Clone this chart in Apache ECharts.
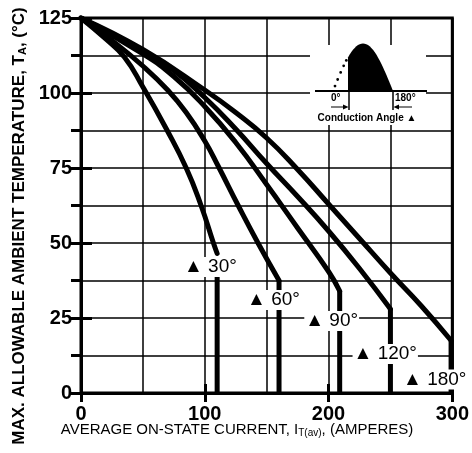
<!DOCTYPE html>
<html>
<head>
<meta charset="utf-8">
<script src="https://cdn.jsdelivr.net/npm/echarts@6/dist/echarts.min.js"></script>
<style>
    html, body {margin: 0; padding: 0; background: #fff;}
    #chart {width: 472px; height: 453px;}
</style>
</head>
<body>
<div id="chart"></div>
<script>
// conduction angles
var angleNames = ['30°', '60°', '90°', '120°', '180°'];

// curves (current A, temperature °C)
var curve30 = [[0, 125], [20, 118], [35, 112], [50, 102], [69, 88], [85, 75], [97, 62.5], [107, 50], [110, 46.5]];
var curve60 = [[0, 125], [25, 117.5], [50, 109], [70, 101], [85, 93.5], [100, 84], [111, 75.5], [127, 62.5], [143, 50], [160, 37.5]];
var curve90 = [[0, 125], [50, 113], [75, 105.5], [100, 95.5], [125, 83.5], [150, 69.5], [175, 55], [200, 40.5], [209, 34]];
var curve120 = [[0, 125], [50, 114], [75, 107.5], [100, 98.5], [125, 88], [150, 76.5], [175, 65.5], [200, 54], [225, 41.5], [250, 28]];
var curve180 = [[0, 125], [50, 114.5], [100, 101], [125, 93.5], [150, 85], [175, 74.5], [200, 63], [225, 51.5], [250, 40], [275, 29], [299, 17.5]];

// vertical drops at the end of each curve
var drop30 = [[110, 39], [110, 0]];
var drop60 = [[160, 37.5], [160, 0]];
var drop90 = [[209, 34], [209, 0]];
var drop120 = [[250, 28], [250, 0]];
var drop180 = [[299, 17.5], [299, 0]];

// where the "▲ angle" labels start
var labelPoints = [[82, 42], [133, 31], [180, 24], [219, 13], [259, 4.5]];

var curves = [curve30, curve60, curve90, curve120, curve180];
var drops = [drop30, drop60, drop90, drop120, drop180];

var font = 'Liberation Sans, Arial, sans-serif';

var series = [];
for (var i = 0; i < curves.length; i++) {
    series.push({
        name: angleNames[i],
        type: 'line',
        data: curves[i],
        smooth: 0.5,
        symbol: 'none',
        z: 3,
        lineStyle: {color: '#000', width: 5, cap: 'round', join: 'round'}
    });
    series.push({
        name: angleNames[i],
        type: 'line',
        data: drops[i],
        symbol: 'none',
        z: 3,
        lineStyle: {color: '#000', width: 5, cap: 'butt'}
    });
}

// labels, white box over grid and lines
series.push({
    type: 'scatter',
    symbolSize: 1,
    z: 5,
    itemStyle: {color: 'rgba(0,0,0,0)', opacity: 1},
    data: labelPoints.map(function (p, i) {
        return {value: p, name: angleNames[i]};
    }),
    label: {
        show: true,
        position: 'right',
        distance: 0,
        opacity: 1,
        formatter: function (p) { return '▲ ' + p.name; },
        fontFamily: font,
        fontSize: 19,
        color: '#000',
        backgroundColor: '#fff',
        padding: [1, 1, 0, 1]
    }
});

// small conduction angle picture in the top right
var waveX0 = 333, waveW = 60, waveBase = 91, waveAmp = 47.5;
function wavePt(deg) {
    return [waveX0 + waveW * deg / 180, waveBase - waveAmp * Math.sin(deg * Math.PI / 180)];
}
var wavePts = [[wavePt(45)[0], waveBase]];
for (var d = 45; d <= 180; d += 5) wavePts.push(wavePt(d));
var dotEls = [6, 14, 23, 32, 40].map(function (deg) {
    var p = wavePt(deg);
    return {type: 'circle', z: 11, shape: {cx: p[0], cy: p[1], r: 1.4}, style: {fill: '#000'}};
});

var inset = [
    {type: 'rect', z: 10, shape: {x: 310, y: 45, width: 116, height: 80}, style: {fill: '#fff'}},
    {type: 'line', z: 11, shape: {x1: 315, y1: 91, x2: 427, y2: 91}, style: {stroke: '#000', lineWidth: 2}},
    {type: 'polygon', z: 11, shape: {points: wavePts}, style: {fill: '#000'}},
    {type: 'line', z: 11, shape: {x1: 349, y1: 92, x2: 349, y2: 110}, style: {stroke: '#000', lineWidth: 1.5}},
    {type: 'line', z: 11, shape: {x1: 393, y1: 92, x2: 393, y2: 110}, style: {stroke: '#000', lineWidth: 1.5}},
    {type: 'line', z: 11, shape: {x1: 331, y1: 107, x2: 346, y2: 107}, style: {stroke: '#000', lineWidth: 1}},
    {type: 'polygon', z: 11, shape: {points: [[343, 104.5], [348.5, 107], [343, 109.5]]}, style: {fill: '#000'}},
    {type: 'line', z: 11, shape: {x1: 412, y1: 107, x2: 396, y2: 107}, style: {stroke: '#000', lineWidth: 1}},
    {type: 'polygon', z: 11, shape: {points: [[399, 104.5], [393.5, 107], [399, 109.5]]}, style: {fill: '#000'}},
    {type: 'text', z: 11, x: 331, y: 93, style: {text: '0°', font: 'bold 10px ' + font, fill: '#000'}},
    {type: 'text', z: 11, x: 395, y: 93, style: {text: '180°', font: 'bold 10px ' + font, fill: '#000'}},
    {type: 'text', z: 11, x: 367, y: 118, style: {text: 'Conduction Angle ▲', font: 'bold 10px ' + font, fill: '#000', align: 'center', verticalAlign: 'middle'}}
].concat(dotEls);

// axis titles
var titles = [
    {
        type: 'text', x: 19, y: 226, rotation: Math.PI / 2,
        style: {
            text: 'MAX. ALLOWABLE AMBIENT TEMPERATURE, T{sub|A}, (°C)',
            font: 'bold 17px ' + font, fill: '#000', align: 'center', verticalAlign: 'middle',
            rich: {sub: {fontSize: 11, fontWeight: 'bold', fontFamily: font, padding: [7, 0, 0, 0]}}
        }
    },
    {
        type: 'text', x: 237, y: 430,
        style: {
            text: 'AVERAGE ON-STATE CURRENT, I{sub|T(av)}, (AMPERES)',
            font: '15px ' + font, fill: '#000', align: 'center', verticalAlign: 'middle',
            rich: {sub: {fontSize: 10, fontFamily: font, padding: [6, 0, 0, 0]}}
        }
    }
];

var option = {
    animation: false,
    backgroundColor: '#fff',
    grid: {left: 81, right: 18, top: 18, bottom: 60, show: true, borderColor: '#000', borderWidth: 3},
    xAxis: [
        {
            type: 'value', min: 0, max: 300, interval: 100,
            axisLine: {lineStyle: {color: '#000', width: 3}},
            axisTick: {inside: true, length: 9, lineStyle: {color: '#000', width: 3}},
            minorTick: {show: false, splitNumber: 2},
            axisLabel: {color: '#000', fontFamily: font, fontWeight: 'bold', fontSize: 20, margin: 11},
            splitLine: {show: true, lineStyle: {color: '#000', width: 1.5}},
            minorSplitLine: {show: true, lineStyle: {color: '#000', width: 1.5}}
        },
        {
            type: 'value', min: 0, max: 300, interval: 100, position: 'top',
            axisLine: {lineStyle: {color: '#000', width: 3}},
            axisTick: {inside: true, length: 9, lineStyle: {color: '#000', width: 3}},
            axisLabel: {show: false},
            splitLine: {show: false}
        }
    ],
    yAxis: [
        {
            type: 'value', min: 0, max: 125, interval: 25,
            axisLine: {show: true, lineStyle: {color: '#000', width: 3}},
            axisTick: {show: true, inside: true, length: 11, lineStyle: {color: '#000', width: 3}},
            minorTick: {show: false, splitNumber: 2},
            axisLabel: {color: '#000', fontFamily: font, fontWeight: 'bold', fontSize: 20, margin: 9},
            splitLine: {show: true, lineStyle: {color: '#000', width: 1.5}},
            minorSplitLine: {show: true, lineStyle: {color: '#000', width: 1.5}}
        },
        {
            type: 'value', min: 0, max: 125, interval: 12.5, position: 'right',
            axisLine: {show: true, lineStyle: {color: '#000', width: 3}},
            axisTick: {show: true, inside: true, length: 10, lineStyle: {color: '#000', width: 3}},
            axisLabel: {show: false},
            splitLine: {show: false}
        }
    ],
    graphic: inset.concat(titles),
    series: series
};

var myChart = echarts.init(document.getElementById('chart'));
myChart.setOption(option);
</script>
</body>
</html>
